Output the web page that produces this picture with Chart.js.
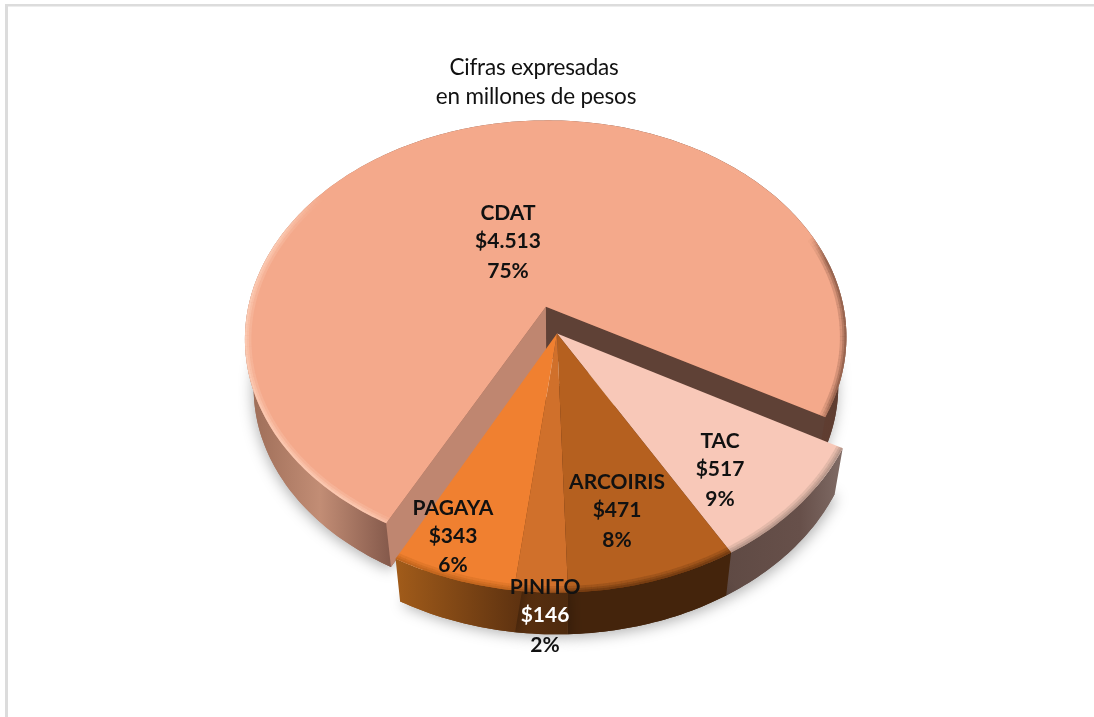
<!DOCTYPE html>
<html><head><meta charset="utf-8">
<script src="https://cdn.jsdelivr.net/npm/chart.js@4"></script>
<style>html,body{margin:0;padding:0;background:#fff}canvas{display:block}</style>
</head><body><canvas id="c" width="1094" height="717"></canvas>
<script>
const categories = ["CDAT","TAC","ARCOIRIS","PINITO","PAGAYA"];
const values = [4513,517,471,146,343];
const percents = ["75%","9%","8%","2%","6%"];
const topColors = ["#F4A98B","#F8C8B8","#B5601F","#D0702B","#F08030"];
const titleLines = ["Cifras expresadas","en millones de pesos"];

const deg = Math.PI/180;
const P = 0.147, SX = 303/265, SY = 221/265, S = 0.972, D = 49;
const sideStops = [
  [[243,'#9a6a55'],[320,'#c28d75'],[392,'#83584a'],[700,'#6a4436'],[850,'#5d3c30']],
  [[725,'#5f4a44'],[800,'#67504a'],[850,'#84706a']],
  [[565,'#44240c'],[730,'#44240c']],
  [[515,'#5b300f'],[570,'#4d2a0e']],
  [[395,'#a25c1a'],[520,'#5e3210']]
];
const wallColors = [['#BF8670','#5F4136'],null,null,null,null];
const rims = [
  [[108,215,'#FFD8C4'],[340,392,'#6d4535']],
  [[15,75,'#9c8278']],
  [[45,105,'#5a2e0c']],
  [[75,115,'#88481a']],
  [[85,135,'#b05c18']]
];
const labelPos = [[508,213,241,271],[720,441,469,499],[617,482,510,540],[545,587,615,645],[453,508,536,565]];
const labelColors = [['#111','#111','#111'],['#111','#111','#111'],['#111','#111','#111'],['#111','#fff','#111'],['#111','#111','#111']];
const fmt = v => '$' + String(v).replace(/\B(?=(\d{3})+$)/g,'.');

function project(arc, a, lower, ox, oy){
  const R = arc.outerRadius, u = Math.cos(a) + ox, v = Math.sin(a) + oy;
  const w = 1 - P*v, s = lower ? S : 1;
  return [arc.x + s*SX*R*u/w, arc.y + (lower?D:0) + s*SY*R*v/w];
}
function centerOf(arc, lower, ox, oy){
  const R = arc.outerRadius, w = 1 - P*oy, s = lower ? S : 1;
  return [arc.x + s*SX*R*ox/w, arc.y + (lower?D:0) + s*SY*R*oy/w];
}
function curve(arc, a0, a1, lower, ox, oy){
  const n = Math.max(2, Math.ceil(Math.abs(a1-a0)/deg)), pts = [];
  for (let i=0;i<=n;i++) pts.push(project(arc, a0+(a1-a0)*i/n, lower, ox, oy));
  return pts;
}
function poly(ctx, pts){ ctx.beginPath(); pts.forEach((p,i)=> i?ctx.lineTo(p[0],p[1]):ctx.moveTo(p[0],p[1])); ctx.closePath(); }

const pie3d = {
  id:'pie3d',
  beforeDraw(chart){
    const ctx = chart.ctx;
    ctx.save();
    ctx.fillStyle='#fff'; ctx.fillRect(0,0,chart.width,chart.height);
    ctx.fillStyle='#dcdcdc'; ctx.fillRect(5,4,chart.width-5,2.5); ctx.fillRect(5,4,3,chart.height-4);
    ctx.restore();
  },
  beforeDatasetsDraw(chart){
    const ctx = chart.ctx, arcs = chart.getDatasetMeta(0).data;
    const geo = arcs.map(arc=>{
      const a0 = arc.startAngle, a1 = arc.endAngle, mid=(a0+a1)/2;
      const d = (arc.options.offset||0)/4/arc.outerRadius;
      const ox = Math.cos(mid)*d, oy = Math.sin(mid)*d;
      return {arc,a0,a1,ox,oy,
        top:curve(arc,a0,a1,false,ox,oy), bot:curve(arc,a0,a1,true,ox,oy),
        cTop:centerOf(arc,false,ox,oy), cBot:centerOf(arc,true,ox,oy)};
    });
    const side = (g,i)=>{
      const gr = ctx.createLinearGradient(0,0,chart.width,0);
      sideStops[i].forEach(s=>gr.addColorStop(s[0]/chart.width,s[1]));
      ctx.save();
      ctx.shadowColor='rgba(0,0,0,0.30)'; ctx.shadowBlur=14; ctx.shadowOffsetY=3; ctx.shadowOffsetX=i===0?-1:2;
      ctx.fillStyle=gr;
      poly(ctx,[g.cBot,...g.bot]); ctx.fill();
      ctx.restore();
      ctx.fillStyle=gr;
      poly(ctx,[...g.top,...g.bot.slice().reverse()]); ctx.fill();
      if (wallColors[i]){
        ctx.fillStyle=wallColors[i][1];
        poly(ctx,[g.cTop,g.top[g.top.length-1],g.bot[g.bot.length-1],g.cBot]); ctx.fill();
        ctx.fillStyle=wallColors[i][0];
        poly(ctx,[g.cTop,g.top[0],g.bot[0],g.cBot]); ctx.fill();
      }
    };
    const face = (g,i)=>{
      ctx.fillStyle=g.arc.options.backgroundColor;
      poly(ctx,[g.cTop,...g.top]); ctx.fill();
      ctx.save();
      poly(ctx,[g.cTop,...g.top]); ctx.clip();
      ctx.strokeStyle='transparent';
      rims[i].forEach(r=>{
        const seg = curve(g.arc,r[0]*deg,r[1]*deg,false,g.ox,g.oy);
        ctx.strokeStyle=r[2]; ctx.lineCap='butt';
        [[13,.22],[8,.3],[4,.4]].forEach(([w,al])=>{
          ctx.lineWidth=w;
          for(let k=1;k<seg.length;k++){
            const t=k/seg.length;
            ctx.globalAlpha=al*Math.min(1,Math.sin(Math.PI*t)*2.2);
            ctx.beginPath(); ctx.moveTo(seg[k-1][0],seg[k-1][1]); ctx.lineTo(seg[k][0],seg[k][1]); ctx.stroke();
          }
        });
      });
      ctx.restore();
    };
    // large slice first, then the sides of the front group, then its faces
    side(geo[0],0); face(geo[0],0);
    for(let i=1;i<geo.length;i++) side(geo[i],i);
    for(let i=1;i<geo.length;i++) face(geo[i],i);
    return false;
  },
  afterDraw(chart){
    const ctx = chart.ctx;
    ctx.save();
    ctx.textAlign='center'; ctx.textBaseline='middle';
    ctx.fillStyle='#111'; ctx.font='22.5px Lato';
    ctx.letterSpacing='-0.2px';
    ctx.fillText(titleLines[0],534,68); ctx.fillText(titleLines[1],536,97);
    ctx.letterSpacing='0px';
    ctx.font='bold 21px Lato';
    categories.forEach((c,i)=>{
      const [x,y1,y2,y3]=labelPos[i];
      [c,fmt(values[i]),percents[i]].forEach((t,k)=>{
        ctx.fillStyle=labelColors[i][k];
        ctx.fillText(t,x,[y1,y2,y3][k]);
      });
    });
    ctx.restore();
  }
};

new Chart(document.getElementById('c'),{
  type:'pie',
  data:{labels:categories,datasets:[{data:values,backgroundColor:topColors,borderWidth:0,offset:[137,0,0,0,0]}]},
  options:{
    responsive:false,animation:false,rotation:-152.4,
    layout:{padding:{left:20,bottom:50}},
    plugins:{legend:{display:false},tooltip:{enabled:false},title:{display:false}}
  },
  plugins:[pie3d]
});
</script></body></html>
